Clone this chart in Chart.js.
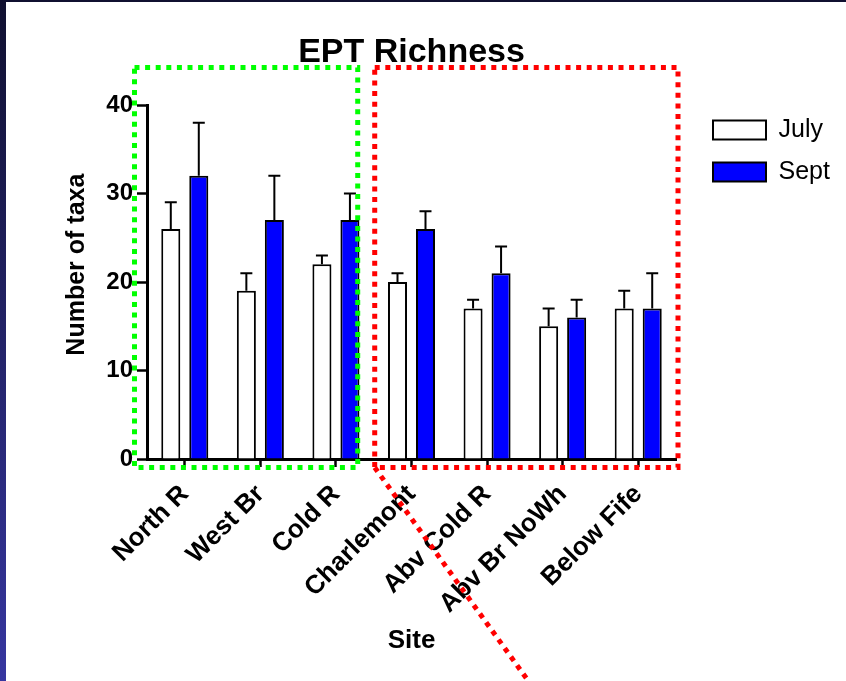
<!DOCTYPE html>
<html>
<head>
<meta charset="utf-8">
<script src="https://cdn.jsdelivr.net/npm/chart.js@4.4.1/dist/chart.umd.min.js"></script>
<style>
  html, body { margin: 0; padding: 0; }
  body { width: 846px; height: 681px; overflow: hidden; position: relative;
         background: linear-gradient(to bottom, #101030, #3636a0); }
  #slide { position: absolute; left: 6px; top: 2px; width: 840px; height: 679px; background: #fff; }
</style>
</head>
<body>
<div id="slide"><canvas id="chart" width="840" height="679"></canvas></div>
<script>
// EPT richness per site, July vs Sept (mean + upper error)
const sites = ['North R', 'West Br', 'Cold R', 'Charlemont', 'Abv Cold R', 'Abv Br NoWh', 'Below Fife'];
const julyTaxa = [26, 19, 22, 20, 17, 15, 17];
const julyErr  = [3, 2, 1, 1, 1, 2, 2];
const septTaxa = [32, 27, 27, 26, 21, 16, 17];
const septErr  = [6, 5, 3, 2, 3, 2, 4];
const yTicks = [0, 10, 20, 30, 40];

Chart.defaults.color = '#000';
Chart.defaults.font.family = "'Liberation Sans', Arial, sans-serif";

// upper error bars only, drawn from the dataset's err array
const errorBars = {
  id: 'errorBars',
  afterDatasetsDraw(chart) {
    const ctx = chart.ctx;
    const y = chart.scales.y;
    chart.data.datasets.forEach((ds, i) => {
      const meta = chart.getDatasetMeta(i);
      meta.data.forEach((bar, j) => {
        const top = y.getPixelForValue(ds.data[j] + ds.err[j]);
        ctx.save();
        ctx.strokeStyle = '#000';
        ctx.lineWidth = 2;
        ctx.beginPath();
        ctx.moveTo(bar.x, bar.y);
        ctx.lineTo(bar.x, top);
        ctx.moveTo(bar.x - 6, top);
        ctx.lineTo(bar.x + 6, top);
        ctx.stroke();
        ctx.restore();
      });
    });
  }
};

// dotted boxes round the two site groups, and the red pointer line
const groupBoxes = {
  id: 'groupBoxes',
  afterDraw(chart) {
    const ctx = chart.ctx;
    const area = chart.chartArea;
    const x = chart.scales.x;
    const split = (x.getPixelForValue(2) + x.getPixelForValue(3)) / 2;
    const top = area.top - 37.5, bottom = area.bottom + 8.5;
    ctx.save();
    ctx.lineWidth = 5;
    ctx.setLineDash([5, 5.6]);
    ctx.strokeStyle = '#00ff00';
    ctx.strokeRect(area.left - 12.5, top, split - 16 - (area.left - 12.5), bottom - top);
    ctx.strokeStyle = '#ff0000';
    ctx.strokeRect(split + 1, top, area.right + 2 - (split + 1), bottom - top);
    ctx.beginPath();
    ctx.moveTo(split + 1, bottom);
    ctx.lineTo(split + 1 + 240 / 1.39, bottom + 240);
    ctx.stroke();
    ctx.restore();
  }
};

// move the legend a little right of the plot, as in the slide
const legendNudge = {
  id: 'legendNudge',
  afterLayout(chart) {
    const lg = chart.legend;
    const dx = chart.chartArea.right + 20 - lg.left;
    lg.left += dx; lg.right += dx;
    lg.top -= 4.5; lg.bottom -= 4.5;
  }
};

new Chart(document.getElementById('chart'), {
  type: 'bar',
  data: {
    labels: sites,
    datasets: [{
      label: 'July',
      data: julyTaxa,
      err: julyErr,
      backgroundColor: '#ffffff',
      borderColor: '#000',
      borderWidth: 2,
      categoryPercentage: 0.741,
      barPercentage: 0.68
    }, {
      label: 'Sept',
      data: septTaxa,
      err: septErr,
      backgroundColor: '#0000ff',
      borderColor: '#000',
      borderWidth: 2,
      categoryPercentage: 0.741,
      barPercentage: 0.68
    }]
  },
  options: {
    responsive: false,
    animation: false,
    layout: { padding: { left: 0, right: 30, top: 0, bottom: 0 } },
    plugins: {
      title: {
        display: true,
        text: 'EPT Richness',
        fullSize: false,
        font: { size: 34, weight: 'bold' },
        padding: { top: 30, bottom: 32.2 }
      },
      legend: {
        position: 'right',
        align: 'start',
        fullSize: false,
        maxWidth: 140,
        labels: {
          boxWidth: 53,
          boxHeight: 19,
          padding: 17,
          font: { size: 25 }
        }
      },
      tooltip: { enabled: false }
    },
    scales: {
      x: {
        offset: true,
        grid: { display: true, drawOnChartArea: false, offset: false, tickLength: 8, tickWidth: 2.5, tickColor: '#000' },
        border: { display: true, color: '#000', width: 3 },
        ticks: { maxRotation: 45, minRotation: 45, padding: 12, font: { size: 26, weight: 'bold' } },
        title: { display: true, text: 'Site', font: { size: 26, weight: 'bold' }, padding: { top: 0, bottom: 24.4 } },
        afterFit(scale) { scale.height = 222; }
      },
      y: {
        min: 0,
        max: 40,
        afterBuildTicks(scale) { scale.ticks = yTicks.map(v => ({ value: v })); },
        grid: { display: true, drawOnChartArea: false, tickLength: 10, tickWidth: 2.5, tickColor: '#000' },
        border: { display: true, color: '#000', width: 3 },
        ticks: { padding: 4, font: { size: 24, weight: 'bold' } },
        title: { display: true, text: '     Number of taxa', font: { size: 25, weight: 'bold' }, padding: { top: 56.4, bottom: 0 } },
        afterFit(scale) { scale.width = 141; }
      }
    }
  },
  plugins: [errorBars, groupBoxes, legendNudge]
});
</script>
</body>
</html>
